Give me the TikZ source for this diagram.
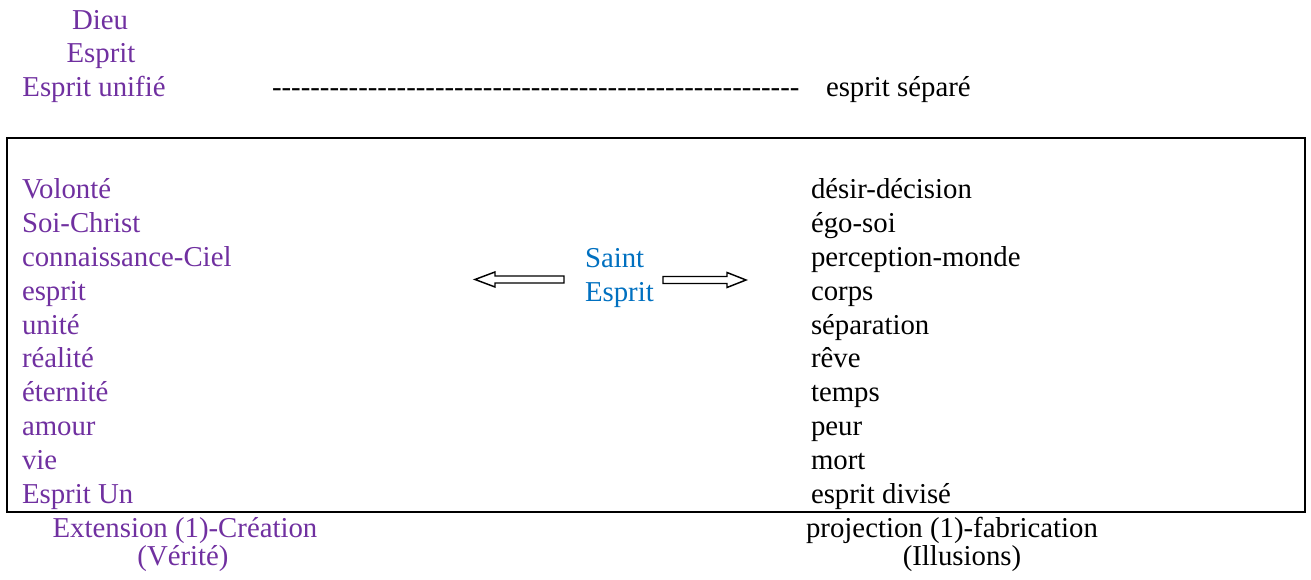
\documentclass[tikz,border=0pt]{standalone}
\usepackage{fontspec}
\setmainfont{Liberation Serif}
\definecolor{violet}{HTML}{7030A0}
\definecolor{bleu}{HTML}{0070C0}
\tikzset{
  txt/.style={inner sep=0pt, outer sep=0pt, font=\fontsize{21.6}{25.4}\selectfont},
  pur/.style={txt, text=violet},
  blk/.style={txt, text=black},
  blu/.style={txt, text=bleu},
  hollow/.style={draw=black, line width=1.1pt, fill=white, line join=miter},
  frame/.style={draw=black, line width=1.5pt}
}
\newcommand\dashrow{\foreach\k in {1,...,55}{-\kern0pt}}
\begin{document}
\begin{tikzpicture}[x=0.75pt,y=-0.75pt]
\useasboundingbox (0,0) rectangle (1311,580);

% heading
\node[pur, anchor=base] (dieu)   at (100,30) {Dieu};
\node[pur, anchor=base] (esp)    at (101,63) {Esprit};
\node[pur, anchor=base] (unifie) at (94,97)  {Esprit unifié};
\node[blk, anchor=base west] (tirets) at (272,97) {\dashrow};
\node[blk, anchor=base west] (separe) at (826,97) {esprit séparé};

% frame
\draw[frame] (7,138) rectangle (1305,512);

% left column
\foreach \t [count=\i] in {Volonté, Soi-Christ, connaissance-Ciel, esprit, unité,
  réalité, éternité, amour, vie, Esprit Un}
  \node[pur, anchor=base west] (L\i) at ({22},{198.5+33.9*(\i-1)}) {\t};

% right column
\foreach \t [count=\i] in {désir-décision, égo-soi, perception-monde, corps,
  séparation, rêve, temps, peur, mort, esprit divisé}
  \node[blk, anchor=base west] (R\i) at ({811},{198.5+33.9*(\i-1)}) {\t};

% centre
\node[blu, anchor=base west] (saint) at (585,268) {Saint};
\node[blu, anchor=base west] (se)    at (585,302) {Esprit};

% hollow arrows
\draw[hollow] (475,279.5) -- (495,272) -- (495,276) -- (564,276) -- (564,283)
  -- (495,283) -- (495,287) -- cycle;
\draw[hollow] (746,280) -- (727,272.5) -- (727,276.5) -- (663,276.5) -- (663,283.5)
  -- (727,283.5) -- (727,287.5) -- cycle;

% captions
\node[pur, anchor=base] (ext)  at (185,538) {Extension (1)-Création};
\node[pur, anchor=base] (ver)  at (183,566) {(Vérité)};
\node[blk, anchor=base] (proj) at (952,538) {projection (1)-fabrication};
\node[blk, anchor=base] (ill)  at (962,566) {(Illusions)};
\end{tikzpicture}
\end{document}
